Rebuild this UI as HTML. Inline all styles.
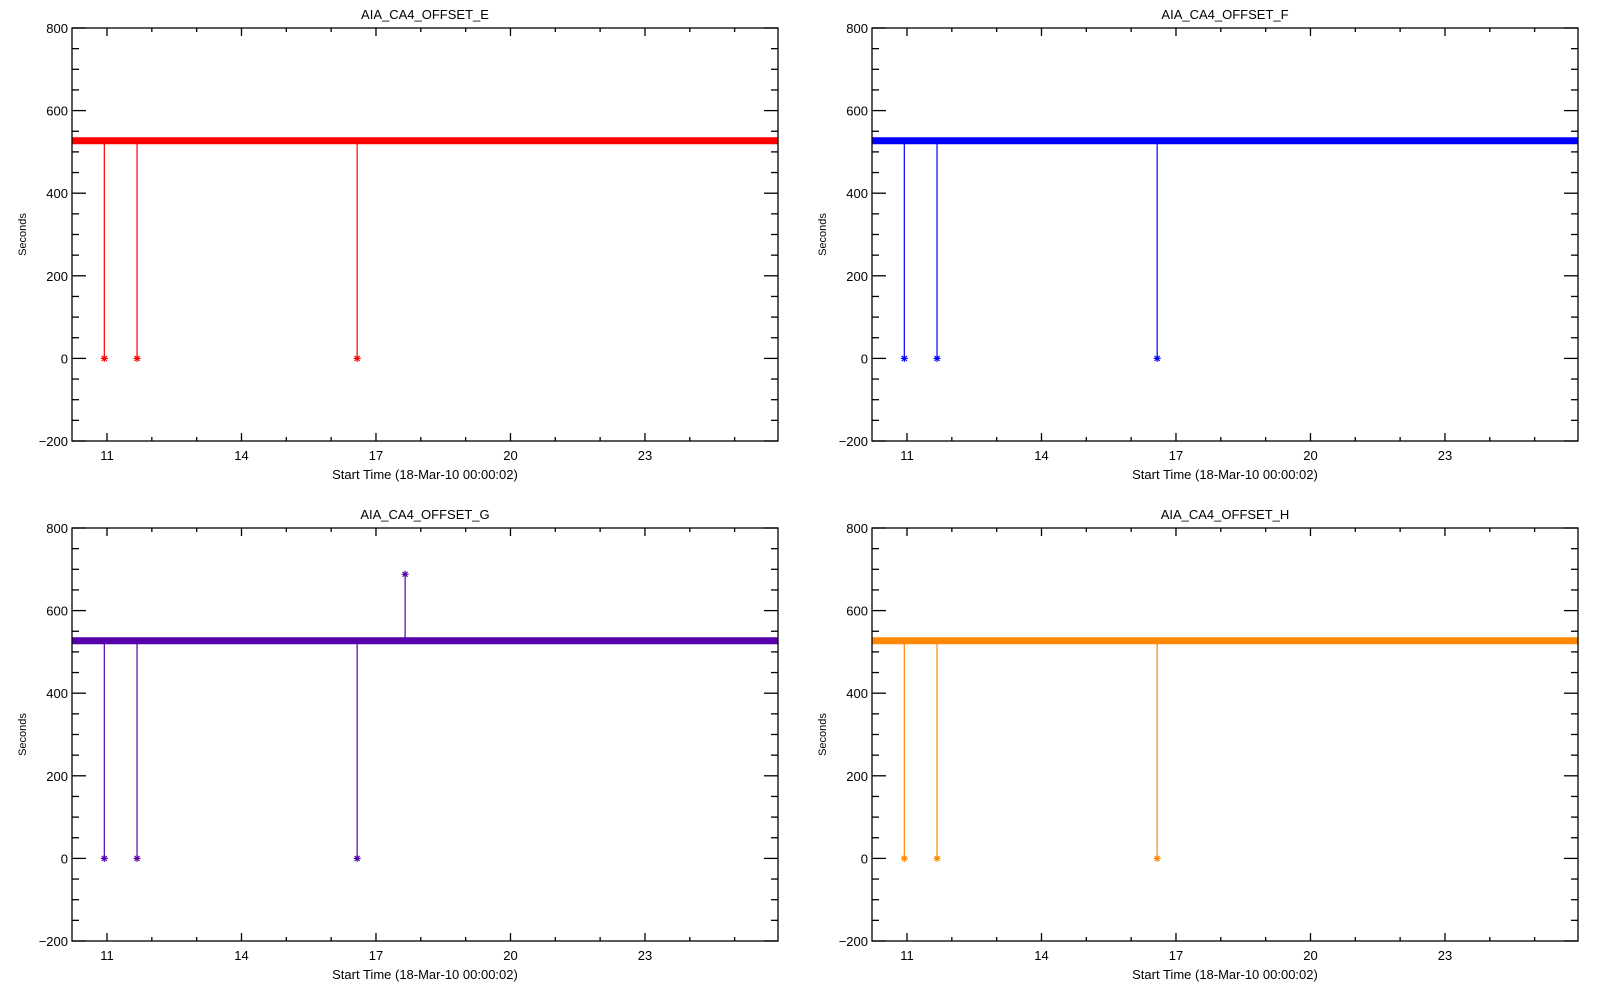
<!DOCTYPE html>
<html><head><meta charset="utf-8"><style>
html,body{margin:0;padding:0;background:#fff;}
svg{display:block;}
text{font-family:"Liberation Sans",sans-serif;font-size:13px;fill:#000;}
</style></head><body>
<svg id="s" width="1600" height="1000" xmlns="http://www.w3.org/2000/svg"></svg>
<script>
const s=document.getElementById('s');
let h='';
const panels=[
 {ox:0,oy:0,t:'AIA_CA4_OFFSET_E',c:'#ff0000',extra:false},
 {ox:800,oy:0,t:'AIA_CA4_OFFSET_F',c:'#0000ff',extra:false},
 {ox:0,oy:500,t:'AIA_CA4_OFFSET_G',c:'#5500aa',extra:true},
 {ox:800,oy:500,t:'AIA_CA4_OFFSET_H',c:'#ff8800',extra:false}];
function star(x,y,c){const r=3.5,d=2.5;return `<g stroke="${c}" stroke-width="1.2"><line x1="${x-r}" y1="${y}" x2="${x+r}" y2="${y}"/><line x1="${x}" y1="${y-r}" x2="${x}" y2="${y+r}"/><line x1="${x-d}" y1="${y-d}" x2="${x+d}" y2="${y+d}"/><line x1="${x-d}" y1="${y+d}" x2="${x+d}" y2="${y-d}"/></g>`;}
for(const p of panels){
 const L=72+p.ox,R=778+p.ox,T=28+p.oy,B=441+p.oy;
 const Y=v=>B-(v+200)*(B-T)/1000;
 const X=u=>L+35+(u-11)*44.83;
 const yl=Y(527);
 h+=`<rect x="${L}" y="${yl-3.5}" width="${R-L}" height="7" fill="${p.c}"/>`;
 for(const u of [10.94,11.67,16.58]){const x=X(u);h+=`<line x1="${x}" y1="${yl}" x2="${x}" y2="${Y(0)}" stroke="${p.c}" stroke-width="1.2"/>`+star(x,Y(0),p.c);}
 if(p.extra){const x=X(17.65);h+=`<line x1="${x}" y1="${yl}" x2="${x}" y2="${Y(688)}" stroke="${p.c}" stroke-width="1.2"/>`+star(x,Y(688),p.c);}
 h+=`<rect x="${L}" y="${T}" width="${R-L}" height="${B-T}" fill="none" stroke="#000" stroke-width="1.3"/>`;
 for(let v=-200;v<=800;v+=50){const y=Y(v),len=v%200==0?14:7;
  h+=`<line x1="${L}" y1="${y}" x2="${L+len}" y2="${y}" stroke="#000" stroke-width="1.3"/><line x1="${R}" y1="${y}" x2="${R-len}" y2="${y}" stroke="#000" stroke-width="1.3"/>`;
  if(v%200==0)h+=`<text x="${L-4}" y="${y+5}" text-anchor="end">${v<0?'\u2212'+(-v):v}</text>`;}
 for(let u=11;u<=25;u++){const x=X(u),len=(u-11)%3==0?8:4;
  h+=`<line x1="${x}" y1="${B}" x2="${x}" y2="${B-len}" stroke="#000" stroke-width="1.3"/><line x1="${x}" y1="${T}" x2="${x}" y2="${T+len}" stroke="#000" stroke-width="1.3"/>`;
  if((u-11)%3==0&&u<=23)h+=`<text x="${x}" y="${B+19}" text-anchor="middle">${u}</text>`;}
 h+=`<text x="${(L+R)/2}" y="${T-9}" text-anchor="middle">${p.t}</text>`;
 h+=`<text x="${(L+R)/2}" y="${B+38}" text-anchor="middle">Start Time (18-Mar-10 00:00:02)</text>`;
 h+=`<text transform="translate(${26+p.ox},${(T+B)/2}) rotate(-90)" text-anchor="middle" style="font-size:11px">Seconds</text>`;
}
s.innerHTML=h;
</script>
</body></html>
